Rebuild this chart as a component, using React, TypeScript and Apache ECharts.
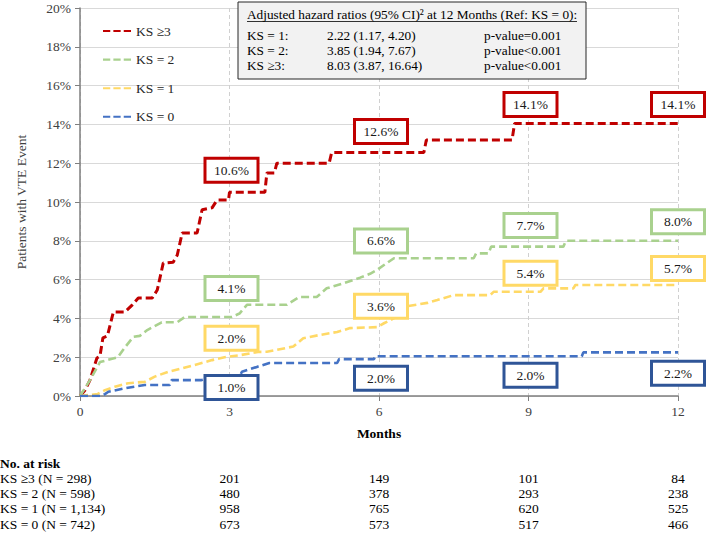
import React, { useEffect, useRef } from "react";
import * as echarts from "echarts";

// ---- data ----
const labelMonths = [3, 6, 9, 12];
const seriesNames = ["KS ≥3", "KS = 2", "KS = 1", "KS = 0"];

const ks3Curve = [
  [0, 0], [0.1, 0.3], [0.2, 0.82], [0.34, 1.96], [0.4, 2.05], [0.46, 3.0], [0.55, 3.1], [0.67, 4.33],
  [0.9, 4.33], [1.05, 4.7], [1.17, 5.05], [1.45, 5.05], [1.55, 5.46], [1.67, 6.85], [1.87, 6.9],
  [1.95, 7.25], [2.05, 8.4], [2.35, 8.4], [2.45, 9.6], [2.65, 9.7], [2.75, 10.1], [2.98, 10.1],
  [3.0, 10.5], [3.71, 10.5], [3.75, 11.5], [3.9, 11.5], [3.95, 12.0], [5.0, 12.0], [5.05, 12.55],
  [6.9, 12.55], [6.95, 13.2], [8.67, 13.2], [8.72, 14.05], [12, 14.05],
];
const ks2Curve = [
  [0, 0], [0.2, 0.82], [0.4, 1.75], [0.55, 1.85], [0.76, 2.0], [0.9, 2.5], [1.07, 3.05], [1.2, 3.1],
  [1.35, 3.4], [1.64, 3.8], [1.95, 3.8], [2.1, 4.07], [3.05, 4.07], [3.2, 4.25], [3.35, 4.7],
  [4.15, 4.7], [4.4, 5.1], [4.75, 5.1], [4.95, 5.55], [5.28, 5.8], [5.62, 6.1], [5.82, 6.3],
  [5.96, 6.5], [6.1, 6.75], [6.3, 7.1], [7.9, 7.1], [7.95, 7.35], [8.2, 7.35], [8.25, 7.7],
  [9.7, 7.7], [9.75, 8.0], [12, 8.0],
];
const ks1Curve = [
  [0, 0], [0.35, 0.1], [0.5, 0.3], [0.7, 0.48], [0.97, 0.66], [1.3, 0.73], [1.5, 1.0], [1.77, 1.25],
  [2.05, 1.43], [2.3, 1.6], [2.65, 1.85], [2.9, 2.0], [3.2, 2.1], [3.57, 2.27], [3.75, 2.28],
  [4.28, 2.55], [4.48, 2.98], [4.82, 3.15], [5.16, 3.3], [5.42, 3.5], [5.96, 3.55], [6.1, 3.75],
  [6.42, 4.17], [6.5, 4.6], [6.97, 4.8], [7.17, 4.95], [7.5, 5.2], [8.23, 5.2], [8.3, 5.37],
  [9.24, 5.37], [9.3, 5.55], [9.9, 5.55], [9.94, 5.72], [12, 5.72],
];
const ks0Curve = [
  [0, 0], [0.43, 0], [0.5, 0.1], [0.57, 0.22], [0.9, 0.4], [1.3, 0.57], [1.8, 0.57], [1.84, 0.82],
  [2.44, 0.82], [2.7, 1.0], [3.2, 1.0], [3.25, 1.25], [3.55, 1.5], [3.8, 1.7], [5.16, 1.7],
  [5.2, 1.9], [5.9, 1.9], [5.92, 2.05], [10.07, 2.05], [10.1, 2.25], [12, 2.25],
];

const ks3Labels = [10.6, 12.6, 14.1, 14.1];
const ks2Labels = [4.1, 6.6, 7.7, 8.0];
const ks1Labels = [2.0, 3.6, 5.4, 5.7];
const ks0Labels = [1.0, 2.0, 2.0, 2.2];

const hrTitle = "Adjusted hazard ratios (95% CI)² at 12 Months (Ref: KS = 0):";
const hrGroups = ["KS = 1:", "KS = 2:", "KS ≥3:"];
const hrValues = ["2.22 (1.17, 4.20)", "3.85 (1.94, 7.67)", "8.03 (3.87, 16.64)"];
const hrPvalues = ["p-value=0.001", "p-value<0.001", "p-value<0.001"];

const riskTitle = "No. at risk";
const riskRowLabels = ["KS ≥3 (N = 298)", "KS = 2 (N = 598)", "KS = 1 (N = 1,134)", "KS = 0 (N = 742)"];
const riskKs3 = [201, 149, 101, 84];
const riskKs2 = [480, 378, 293, 238];
const riskKs1 = [958, 765, 620, 525];
const riskKs0 = [673, 573, 517, 466];

export default function App() {
  const ref = useRef<HTMLDivElement>(null);

  useEffect(() => {
    const chart = echarts.init(ref.current!, null, { renderer: "svg" });
    const FONT = '"Liberation Serif", "Times New Roman", serif';
    const lineColors = ["#C00000", "#A9D18E", "#FFD966", "#4472C4"];
    const boxColors = ["#C00000", "#A9D18E", "#FFD966", "#2F5597"];
    const curves = [ks3Curve, ks2Curve, ks1Curve, ks0Curve];
    const labels = [ks3Labels, ks2Labels, ks1Labels, ks0Labels];
    const labelDy = [
      [-20, -20, -18, -18],
      [-28, -27, -21, -19],
      [-19, -20, -18, -17],
      [11, 21, 18, 20],
    ];
    const labelDx = [2, 2, 2, 0];
    const dashIcon = "path://M0,0h7v2h-7z M10,0h7v2h-7z M20,0h7v2h-7z";

    const lineSeries = curves.map((c, i) => ({
      name: seriesNames[i],
      type: "line",
      data: c,
      symbol: "none",
      showSymbol: false,
      z: 3,
      lineStyle: { color: lineColors[i], width: i === 0 ? 3 : 2.6, type: [8, 4] },
      itemStyle: { color: lineColors[i] },
    }));

    const labelSeries = labels.map((arr, i) => ({
      name: "lbl" + i,
      type: "scatter",
      symbol: "circle",
      symbolSize: 1,
      itemStyle: { color: "rgba(0,0,0,0)", opacity: 1 },
      z: 6,
      silent: true,
      data: arr.map((v, j) => ({
        value: [labelMonths[j], v],
        label: { offset: [labelDx[j], labelDy[i][j]] },
      })),
      label: {
        show: true,
        opacity: 1,
        position: "inside",
        formatter: (p: any) => p.value[1].toFixed(1) + "%",
        fontFamily: FONT,
        fontSize: 13.5,
        color: "#1a1a1a",
        backgroundColor: "#fff",
        borderColor: boxColors[i],
        borderWidth: 3,
        width: 44,
        height: 17,
        lineHeight: 17,
        align: "center",
        verticalAlign: "middle",
        padding: [2, 3],
      },
    }));

    chart.setOption({
      animation: false,
      grid: { left: 80, top: 8, right: 31, bottom: 138 },
      legend: {
        data: seriesNames.map((n) => ({ name: n, icon: dashIcon })),
        orient: "vertical",
        left: 98,
        top: 19,
        itemWidth: 28,
        itemHeight: 3,
        itemGap: 14.6,
        textStyle: { fontFamily: FONT, fontSize: 13.5, color: "#262626" },
      },
      xAxis: {
        type: "value",
        min: 0,
        max: 12,
        interval: 3,
        name: "Months",
        nameLocation: "middle",
        nameGap: 30,
        nameTextStyle: { fontFamily: FONT, fontSize: 13.5, fontWeight: "bold", color: "#000" },
        axisLine: { lineStyle: { color: "#7F7F7F", width: 1.5 } },
        axisTick: { show: true, length: 5, lineStyle: { color: "#7F7F7F" } },
        axisLabel: { fontFamily: FONT, fontSize: 13.5, color: "#404040", margin: 8 },
        splitLine: { show: true, lineStyle: { color: "#D0D0D0", type: [4, 3], width: 1 } },
      },
      yAxis: {
        type: "value",
        min: 0,
        max: 20,
        interval: 2,
        name: "Patients with VTE Event",
        nameLocation: "middle",
        nameGap: 52,
        nameTextStyle: { fontFamily: FONT, fontSize: 13.5, color: "#404040" },
        axisLine: { show: true, lineStyle: { color: "#7F7F7F", width: 1.5 } },
        axisTick: { show: true, length: 5, lineStyle: { color: "#7F7F7F" } },
        axisLabel: { fontFamily: FONT, fontSize: 13.5, color: "#404040", margin: 9, formatter: "{value}%" },
        splitLine: { show: true, lineStyle: { color: "#D9D9D9", width: 1 } },
      },
      series: [...lineSeries, ...labelSeries],
    });

    const xs = labelMonths.map((m) => chart.convertToPixel({ xAxisIndex: 0 }, m) as number);
    const riskData = [riskKs3, riskKs2, riskKs1, riskKs0];
    const tableTop = 463;
    const rowH = 15.3;
    const textStyle = (text: string, x: number, y: number, align = "left", bold = false, size = 13.5) => ({
      type: "text",
      x,
      y,
      z: 20,
      style: {
        text,
        fill: "#000",
        font: `${bold ? "bold " : ""}${size}px ${FONT}`,
        textAlign: align,
        verticalAlign: "middle",
      },
    });

    const graphics: any[] = [
      {
        type: "rect",
        z: 15,
        shape: { x: 238, y: 2, width: 348, height: 77 },
        style: { fill: "#F2F2F2", stroke: "#262626", lineWidth: 1 },
      },
      textStyle(hrTitle, 247, 14, "left", false, 13.3),
      {
        type: "line",
        z: 20,
        shape: { x1: 247, y1: 21.5, x2: 577, y2: 21.5 },
        style: { stroke: "#000", lineWidth: 0.8 },
      },
      ...hrGroups.flatMap((g, i) => [
        textStyle(g, 247, 35 + i * 15, "left", false, 13.3),
        textStyle(hrValues[i], 327, 35 + i * 15, "left", false, 13.3),
        textStyle(hrPvalues[i], 484, 35 + i * 15, "left", false, 13.3),
      ]),
      textStyle(riskTitle, 0, tableTop, "left", true),
      ...riskRowLabels.flatMap((lab, i) => [
        textStyle(lab, 0, tableTop + (i + 1) * rowH),
        ...riskData[i].map((v, j) => textStyle(String(v), xs[j], tableTop + (i + 1) * rowH, "center")),
      ]),
    ];
    chart.setOption({ graphic: graphics });

    return () => chart.dispose();
  }, []);

  return (
    <div
      ref={ref}
      style={{ position: "fixed", left: 0, top: 0, width: 709, height: 534, background: "#fff" }}
    />
  );
}
